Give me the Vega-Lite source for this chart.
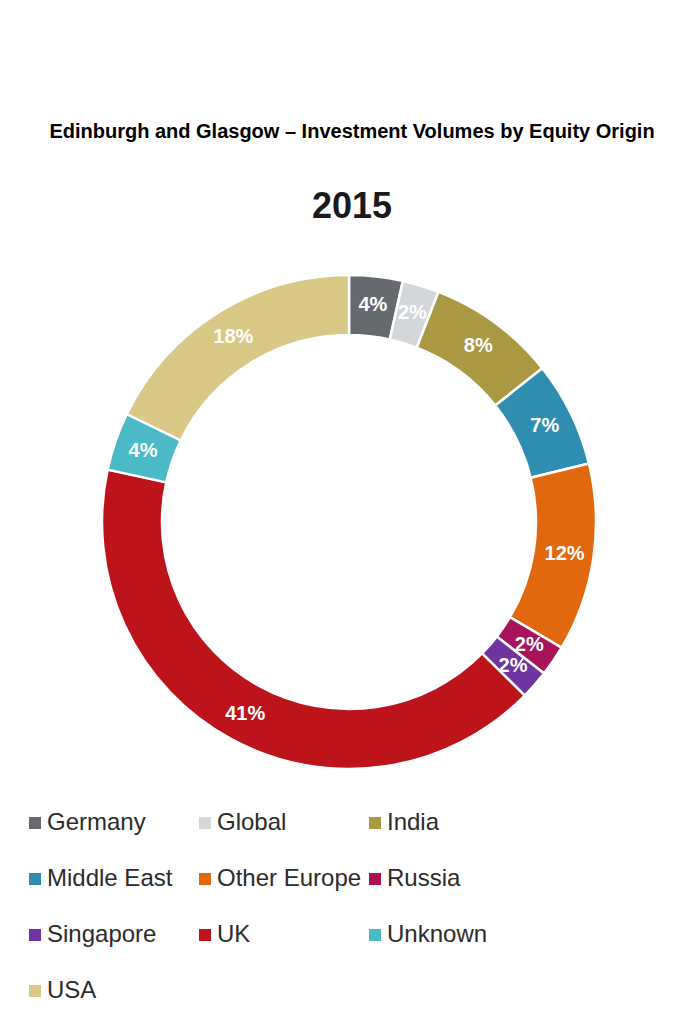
{
  "$schema": "https://vega.github.io/schema/vega-lite/v6.json",
  "width": 494,
  "height": 494,
  "autosize": {"type": "none"},
  "padding": {"left": 102, "top": 275, "right": 104, "bottom": 242},
  "background": "white",
  "title": {
    "text": "Edinburgh and Glasgow – Investment Volumes by Equity Origin",
    "subtitle": "2015",
    "anchor": "middle",
    "dx": 3,
    "font": "Liberation Sans",
    "fontSize": 20,
    "fontWeight": "bold",
    "color": "#000000",
    "subtitleFont": "Liberation Sans",
    "subtitleFontSize": 36,
    "subtitleFontWeight": "bold",
    "subtitleColor": "#1a1a1a",
    "subtitlePadding": 48,
    "offset": 45
  },
  "data": {
    "values": [
      {"origin": "Germany", "share": 3.5, "label": "4%", "idx": 1},
      {"origin": "Global", "share": 2.4, "label": "2%", "idx": 2},
      {"origin": "India", "share": 8.4, "label": "8%", "idx": 3},
      {"origin": "Middle East", "share": 6.9, "label": "7%", "idx": 4},
      {"origin": "Other Europe", "share": 12.3, "label": "12%", "idx": 5},
      {"origin": "Russia", "share": 2.0, "label": "2%", "idx": 6},
      {"origin": "Singapore", "share": 1.9, "label": "2%", "idx": 7},
      {"origin": "UK", "share": 41.0, "label": "41%", "idx": 8},
      {"origin": "Unknown", "share": 3.8, "label": "4%", "idx": 9},
      {"origin": "USA", "share": 17.8, "label": "18%", "idx": 10}
    ]
  },
  "encoding": {
    "theta": {"field": "share", "type": "quantitative", "stack": true},
    "order": {"field": "idx", "type": "quantitative"},
    "color": {
      "field": "origin",
      "type": "nominal",
      "scale": {
        "domain": ["Germany", "Global", "India", "Middle East", "Other Europe", "Russia", "Singapore", "UK", "Unknown", "USA"],
        "range": ["#66696d", "#d3d7d9", "#aa9843", "#2f8eb0", "#e2680f", "#a8145a", "#7133a0", "#bd141c", "#4bbac6", "#d9c886"]
      },
      "legend": {
        "title": null,
        "orient": "none",
        "legendX": -79,
        "legendY": 536,
        "direction": "horizontal",
        "columns": 3,
        "gridAlign": "all",
        "columnPadding": 1,
        "rowPadding": 32,
        "symbolType": "square",
        "symbolSize": 144,
        "symbolStrokeWidth": 0,
        "symbolOpacity": 1,
        "labelFont": "Liberation Sans",
        "labelFontSize": 24,
        "labelColor": "#2b2b2b",
        "labelOffset": 0,
        "labelLimit": 300
      }
    }
  },
  "layer": [
    {
      "mark": {"type": "arc", "outerRadius": 247, "innerRadius": 187, "stroke": "white", "strokeWidth": 2.5}
    },
    {
      "mark": {"type": "text", "radius": 218, "font": "Liberation Sans", "fontSize": 20, "fontWeight": "bold", "fill": "white", "align": "center", "baseline": "middle"},
      "encoding": {
        "text": {"field": "label", "type": "nominal"},
        "color": {"value": "white"}
      }
    }
  ],
  "config": {"view": {"stroke": null}}
}
